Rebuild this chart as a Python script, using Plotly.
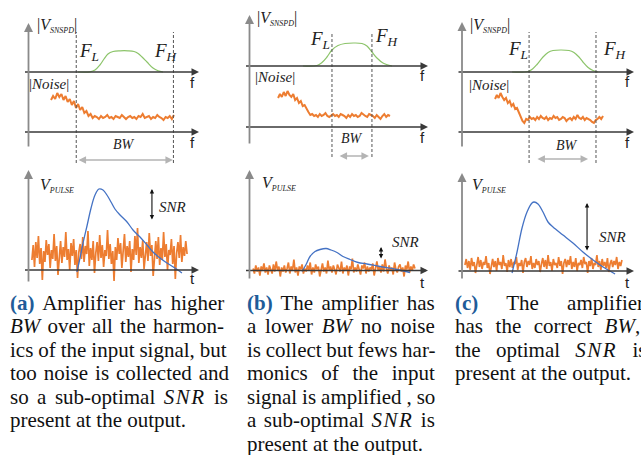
import numpy as np
import plotly.graph_objects as go

W, H = 641, 455

# ---------------- data ----------------
# cut-off frequencies (f units, 0 = vertical axis, 10 = arrow tip)
FL = [2.8, 4.62, 3.90]
FH = [8.5, 6.86, 7.79]

# |V_SNSPD| band (green)
sig_f_a = [2.90, 3.61, 3.90, 4.19, 4.43, 4.66, 4.96, 5.37, 5.84, 6.19, 6.43, 6.66, 6.95, 7.30, 7.60, 7.89]
sig_v_a = [0, 0.02, 0.2, 0.7, 1.3, 1.8, 2.05, 2.12, 2.12, 2.05, 1.85, 1.5, 1.0, 0.4, 0.12, 0.0]
sig_f_b = [2.99, 3.78, 4.06, 4.34, 4.62, 4.96, 5.35, 5.85, 6.30, 6.58, 6.86, 7.14, 7.48, 7.98]
sig_v_b = [0, 0.05, 0.35, 0.9, 1.6, 2.05, 2.25, 2.3, 2.25, 2.0, 1.4, 0.8, 0.3, 0.0]
sig_f_c = [2.91, 3.84, 4.13, 4.36, 4.71, 5.0, 5.29, 5.76, 6.22, 6.51, 6.80, 7.03, 7.33, 7.62, 7.91]
sig_v_c = [0, 0.05, 0.35, 0.75, 1.5, 1.95, 2.15, 2.2, 2.15, 1.95, 1.5, 1.0, 0.45, 0.15, 0.0]

# |Noise| spectrum (orange), sampled evenly between first and last f
nf_span_a = [1.32, 8.53]
nf_v_a = [3.2, 3.6, 3.3, 3.9, 3.5, 3.8, 3.2, 3.6, 3.0, 3.3, 2.7, 3.1, 2.4, 2.8, 2.2, 2.5, 1.9, 2.1, 1.6, 1.8,
          1.4, 1.6, 1.5, 1.3, 1.6, 1.4, 1.5, 1.7, 1.4, 1.5, 1.3, 1.6, 1.5, 1.4, 1.7, 1.5, 1.3, 1.5, 1.6, 1.4,
          1.5, 1.3, 1.6, 1.5, 1.8, 1.4, 1.5, 1.6, 1.3, 1.5, 1.4, 1.7, 1.5, 1.4, 1.2, 1.5, 1.4, 1.6, 1.3, 1.7]
nf_span_b = [1.6, 7.87]
nf_v_b = [2.9, 3.3, 3.0, 3.5, 3.1, 3.6, 3.2, 3.0, 3.3, 2.7, 2.9, 2.4, 2.6, 2.1, 2.2, 1.8, 1.5, 1.2, 1.3, 1.1,
          1.2, 1.0, 1.3, 1.1, 1.2, 1.4, 1.1, 1.0, 1.2, 1.3, 1.1, 1.2, 1.0, 1.3, 1.2, 1.1, 0.9, 1.2, 1.0, 1.3,
          1.1, 1.2, 1.0, 1.1, 1.4, 1.2, 1.1, 1.0, 1.3, 1.2, 1.1, 0.9, 1.2, 1.0, 0.8, 1.1, 1.3, 1.0, 1.2, 1.1]
nf_span_c = [1.92, 8.2]
nf_v_c = [3.3, 3.7, 3.4, 3.9, 3.5, 3.2, 3.4, 2.9, 3.1, 2.6, 2.8, 2.3, 2.4, 1.9, 1.6, 1.1, 0.9, 1.3, 1.2, 1.5,
          1.3, 1.4, 1.2, 1.5, 1.3, 1.6, 1.4, 1.3, 1.5, 1.2, 1.4, 1.3, 1.6, 1.4, 1.5, 1.2, 1.3, 1.5, 1.4, 1.1,
          1.3, 1.4, 1.2, 1.5, 1.3, 1.7, 1.4, 1.3, 1.5, 1.2, 1.4, 1.3, 1.2, 1.0, 0.9, 1.2, 1.3, 1.5, 1.3, 1.6]

# V_PULSE (blue)
pulse_t_a = [2.84, 3.02, 3.20, 3.43, 3.67, 3.90, 4.13, 4.37, 4.60, 4.84, 5.07, 5.37, 5.78, 6.13, 6.54, 6.95, 7.30, 7.71, 8.12, 8.59, 9.00]
pulse_v_a = [-0.2, 1.2, 2.7, 4.4, 6.2, 7.5, 8.1, 8.0, 7.5, 6.8, 6.1, 5.5, 4.8, 4.0, 3.3, 2.5, 1.8, 1.2, 0.7, 0.2, -0.3]
pulse_t_b = [2.94, 3.17, 3.39, 3.67, 3.95, 4.29, 4.57, 4.90, 5.24, 5.63, 6.08, 6.58, 7.31, 8.26, 8.99]
pulse_v_b = [-0.1, 0.6, 1.4, 1.9, 2.1, 2.2, 2.05, 1.8, 1.4, 1.1, 0.8, 0.65, 0.4, 0.1, -0.2]
pulse_t_c = [2.91, 3.20, 3.49, 3.78, 4.07, 4.19, 4.42, 4.71, 5.0, 5.29, 5.87, 6.45, 7.03, 7.62, 8.20, 8.90]
pulse_v_c = [-0.2, 1.9, 4.3, 5.9, 6.8, 6.9, 6.7, 5.9, 4.9, 4.4, 3.6, 2.8, 1.9, 1.1, 0.4, -0.3]

# time-domain noise (orange), sampled evenly between first and last t
nt_span_a = [0.2, 9.3]
nt_v_a = [1.0, 2.5, 0.3, 2.8, 1.2, 3.4, 0.6, 2.2, -1.0, 1.9, 0.8, 3.0, 1.5, 2.6, 0.2, 2.0, 1.1, 3.6, 0.9, 2.4,
          -0.5, 1.6, 2.9, 0.7, 2.3, 1.3, 3.8, 1.0, 2.1, 0.0, 2.7, 1.4, 3.1, 0.5, 2.0, -0.8, 1.8, 2.6, 1.1, 3.3,
          0.8, 2.4, 1.6, 3.9, 0.4, 2.2, 1.0, 2.9, -0.3, 1.7, 2.8, 0.9, 3.5, 1.2, 2.5, 0.3, 2.0, 1.4, 4.0, 1.1,
          2.6, 0.6, 1.9, -1.1, 2.3, 1.0, 3.2, 1.6, 2.7, 0.2, 1.8, 3.6, 0.8, 2.4, 1.3, 2.9, -0.2, 2.1, 1.0, 3.4,
          1.5, 4.2, 0.7, 2.3, 1.2, 3.0, 0.1, 1.9, 2.8, 0.9, 3.7, 1.4, 2.5, -0.6, 1.6, 2.9, 1.1, 3.3, 0.5, 2.2,
          1.0, 3.8, 1.3, 2.6, 0.0, 2.0, 1.5, 3.1, 0.6, 2.4, -0.9, 1.7, 2.8, 1.2, 3.5, 0.8, 2.3, 1.4, 2.9, 1.6]
nt_span_b = [0.2, 9.27]
nt_v_b = [0.2, -0.3, 0.5, -0.1, 0.3, -0.5, 0.4, 0.0, 0.7, -0.2, 0.3, -0.4, 0.5, 0.1, -0.3, 0.6, -0.1, 0.9, 0.0, 0.4,
          -0.6, 0.3, -0.1, 0.5, -0.2, 0.2, 0.8, -0.3, 0.4, 0.0, 1.1, -0.2, 0.3, -0.5, 0.4, 0.1, 0.6, -0.3, 0.2, -0.1,
          0.5, 0.0, 0.8, -0.4, 0.3, -0.2, 0.6, 0.1, 0.4, -0.6, 0.2, 0.7, -0.1, 0.3, -0.3, 1.0, 0.0, 0.4, -0.2, 0.5,
          0.1, -0.4, 0.6, 0.2, -0.1, 0.9, -0.3, 0.3, 0.0, 0.5, -0.5, 0.4, 0.1, 1.2, -0.2, 0.3, -0.1, 0.6, 0.0, -0.4,
          0.5, 0.2, 0.8, -0.3, 0.4, -0.1, 0.3, 0.1, 0.7, -0.5, 0.2, 0.9, 0.0, 0.4, -0.2, 0.6, -0.1, 1.1, 0.2, -0.3,
          0.5, 0.0, 0.3, -0.4, 0.8, 0.1, -0.2, 0.4, 0.6, -0.1, 0.3, -0.6, 0.5, 0.1, 0.9, -0.2, 0.4, 0.0, 0.6, 0.2]
nt_span_c = [0.17, 9.3]
nt_v_c = [0.6, 1.2, 0.3, 1.0, 0.1, 1.3, 0.5, 0.9, -0.2, 0.8, 1.4, 0.4, 1.1, 0.2, 0.9, 0.6, 1.5, 0.3, 0.8, -0.3,
          0.7, 1.2, 0.4, 1.0, 0.0, 1.3, 0.6, 0.9, 0.2, 1.6, 0.5, 0.8, -0.1, 1.1, 0.4, 1.2, 0.3, 0.9, 0.7, 1.4,
          0.1, 0.8, 0.5, 1.1, -0.2, 0.9, 1.3, 0.4, 1.0, 0.6, 1.5, 0.2, 0.8, 0.3, 1.2, 0.6, 1.0, -0.1, 0.7, 1.3,
          0.4, 1.1, 0.2, 1.6, 0.5, 0.9, 0.0, 1.2, 0.6, 0.8, 0.3, 1.4, 0.5, 1.0, -0.3, 0.8, 1.2, 0.4, 1.1, 0.6,
          1.5, 0.2, 0.9, 0.4, 1.3, 0.0, 0.8, 0.6, 1.1, 0.3, 1.4, 0.7, 0.9, -0.2, 1.0, 0.5, 1.3, 0.2, 0.8, 0.6,
          1.6, 0.4, 1.0, 0.1, 1.2, 0.5, 0.9, 0.3, 1.3, -0.1, 0.7, 1.1, 0.4, 1.0, 0.6, 1.4, 0.2, 0.9, 0.5, 1.1]

# SNR arrow: [t, top V, bottom V]
snr_a = [7.24, 8.1, 4.9]
snr_b = [7.37, 2.35, 1.05]
snr_c = [7.27, 6.8, 1.9]

# BW arrow extent (f units)
bw_a = [2.85, 8.47]
bw_b = [4.96, 6.69]
bw_c = [4.30, 7.33]

SNR_I = '<i><span style="letter-spacing:1.5px">SNR</span></i>'
captions = [
    ["(a)", "Amplifier has higher", "<i>BW</i> over all the harmon-", "ics of the input signal, but",
     "too noise is collected and", f"so a sub-optimal {SNR_I} is", "present at the output."],
    ["(b)", "The amplifier has", "a lower <i>BW</i> no noise", "is collect but fews har-",
     "monics of the input", "signal is amplified , so", f"a sub-optimal {SNR_I} is",
     "present at the output."],
    ["(c)", "The amplifier", "has the correct <i>BW</i>,", f"the optimal {SNR_I} is",
     "present at the output."],
]

# ---------------- layout / style (pixels) ----------------
cols = [
    dict(yax=28.5, xend=199, sig0=72, noi0=132, bot0=270, ytop=(23, 148), ybot=(170, 283),
         dash=(32, 163), bwy=160, cap_x=8),
    dict(yax=249.5, xend=428, sig0=66, noi0=127, bot0=270.5, ytop=(15, 145), ybot=(170, 280),
         dash=(32, 157), bwy=156, cap_x=245),
    dict(yax=462, xend=634, sig0=72, noi0=132, bot0=271, ytop=(22, 148), ybot=(173, 280),
         dash=(32, 163), bwy=159, cap_x=453),
]
# word spacing (px) used to justify each caption line
cap_ws = [
    [3.6, 1.9, -0.3, 1.7, 3.2, 0],
    [3.0, 3.5, -0.6, 8.4, -0.3, 2.2, 0],
    [23.0, 7.3, 10.0, 0],
]
CAP_SIZE = 21
TOP_T, TOP_B = 6, 172
BOT_T, BOT_B = 160, 292
VPX = 10.0  # pixels per value unit

labels = [
    dict(vs=(35, 25), fl=(77, 52), fh=(152, 52), noise=(27, 84), f1=(192, 82), f2=(192, 142),
         bw=(124, 144), vp=(38, 185), snr=(157, 207), t=(192, 278)),
    dict(vs=(255, 19), fl=(308, 40), fh=(373, 37), noise=(253, 77), f1=(422, 76), f2=(422, 137),
         bw=(352, 138), vp=(260, 183), snr=(390, 242), t=(422, 282)),
    dict(vs=(468, 25), fl=(506, 50), fh=(601, 50), noise=(467, 85), f1=(627, 81), f2=(627, 142),
         bw=(567, 145), vp=(470, 185), snr=(597, 237), t=(627, 282)),
]

GREEN = "#8cc46a"
ORANGE = "#ed7d31"
BLUE = "#4472c4"
SERIF = "Liberation Serif, Times New Roman, serif"
SANS = "Liberation Sans, Arial, sans-serif"

sig_f = [sig_f_a, sig_f_b, sig_f_c]
sig_v = [sig_v_a, sig_v_b, sig_v_c]
nf_span = [nf_span_a, nf_span_b, nf_span_c]
nf_v = [nf_v_a, nf_v_b, nf_v_c]
pulse_t = [pulse_t_a, pulse_t_b, pulse_t_c]
pulse_v = [pulse_v_a, pulse_v_b, pulse_v_c]
nt_span = [nt_span_a, nt_span_b, nt_span_c]
nt_v = [nt_v_a, nt_v_b, nt_v_c]
snr = [snr_a, snr_b, snr_c]
bw = [bw_a, bw_b, bw_c]


def ax_name(kind, n):
    return f"{kind}axis" if n == 1 else f"{kind}axis{n}"


def ax_ref(kind, n):
    return kind if n == 1 else f"{kind}{n}"


def px(x, y):
    return x / W, 1 - y / H


fig = go.Figure()
layout = dict(width=W, height=H, margin=dict(l=0, r=0, t=0, b=0, pad=0), showlegend=False,
              paper_bgcolor="white", plot_bgcolor="rgba(0,0,0,0)")
annotations = []
shapes = []

for i, c in enumerate(cols):
    s = (c["xend"] - c["yax"]) / 10.0
    L, R = c["yax"] - 12, c["xend"] + 4
    xr = [(L - c["yax"]) / s, (R - c["yax"]) / s]
    nxt, nxb = 2 * i + 1, 2 * i + 2
    nys, nyn, nyb = 3 * i + 1, 3 * i + 2, 3 * i + 3
    xt, xb = ax_ref("x", nxt), ax_ref("x", nxb)
    ys, yn, yb = ax_ref("y", nys), ax_ref("y", nyn), ax_ref("y", nyb)
    hid = dict(visible=False, showgrid=False, zeroline=False, fixedrange=True)
    layout[ax_name("x", nxt)] = dict(hid, domain=[L / W, R / W], range=xr, anchor=ys)
    layout[ax_name("x", nxb)] = dict(hid, domain=[L / W, R / W], range=xr, anchor=yb)
    layout[ax_name("y", nys)] = dict(hid, domain=[1 - TOP_B / H, 1 - TOP_T / H], anchor=xt,
                                     range=[(c["sig0"] - TOP_B) / VPX, (c["sig0"] - TOP_T) / VPX])
    layout[ax_name("y", nyn)] = dict(hid, overlaying=ys, anchor=xt,
                                     range=[(c["noi0"] - TOP_B) / VPX, (c["noi0"] - TOP_T) / VPX])
    layout[ax_name("y", nyb)] = dict(hid, domain=[1 - BOT_B / H, 1 - BOT_T / H], anchor=xb,
                                     range=[(c["bot0"] - BOT_B) / VPX, (c["bot0"] - BOT_T) / VPX])

    # traces
    fig.add_trace(go.Scatter(x=sig_f[i], y=sig_v[i], xaxis=xt, yaxis=ys, mode="lines",
                             line=dict(color=GREEN, width=1.2, shape="spline"), hoverinfo="skip"))
    fig.add_trace(go.Scatter(x=np.linspace(nf_span[i][0], nf_span[i][1], len(nf_v[i])), y=nf_v[i],
                             xaxis=xt, yaxis=yn, mode="lines",
                             line=dict(color=ORANGE, width=2.0), hoverinfo="skip"))
    fig.add_trace(go.Scatter(x=np.linspace(nt_span[i][0], nt_span[i][1], len(nt_v[i])), y=nt_v[i],
                             xaxis=xb, yaxis=yb, mode="lines",
                             line=dict(color=ORANGE, width=1.7), hoverinfo="skip"))
    fig.add_trace(go.Scatter(x=pulse_t[i], y=pulse_v[i], xaxis=xb, yaxis=yb, mode="lines",
                             line=dict(color=BLUE, width=1.3, shape="spline"), hoverinfo="skip"))

    x_left = -5 / s
    # horizontal axes with arrows
    for yref in (ys, yn):
        annotations.append(dict(x=10, y=0, ax=x_left, ay=0, xref=xt, yref=yref, axref=xt, ayref=yref,
                                text="", showarrow=True, arrowhead=2, arrowsize=1, arrowwidth=1.5,
                                arrowcolor="#3a3a3a", standoff=0))
    annotations.append(dict(x=10, y=0, ax=x_left, ay=0, xref=xb, yref=yb, axref=xb, ayref=yb,
                            text="", showarrow=True, arrowhead=2, arrowsize=1, arrowwidth=1.5,
                            arrowcolor="#3a3a3a", standoff=0))
    # vertical axes
    annotations.append(dict(x=0, y=(c["sig0"] - c["ytop"][0]) / VPX, ax=0, ay=(c["sig0"] - c["ytop"][1]) / VPX,
                            xref=xt, yref=ys, axref=xt, ayref=ys, text="", showarrow=True, arrowhead=2,
                            arrowsize=1, arrowwidth=1.8, arrowcolor="#8a8a8a", standoff=0))
    annotations.append(dict(x=0, y=(c["bot0"] - c["ybot"][0]) / VPX, ax=0, ay=(c["bot0"] - c["ybot"][1]) / VPX,
                            xref=xb, yref=yb, axref=xb, ayref=yb, text="", showarrow=True, arrowhead=2,
                            arrowsize=1, arrowwidth=1.8, arrowcolor="#8a8a8a", standoff=0))
    # dashed cut-off lines
    for fv in (FL[i], FH[i]):
        shapes.append(dict(type="line", xref=xt, yref="paper", x0=fv, x1=fv,
                           y0=1 - c["dash"][1] / H, y1=1 - c["dash"][0] / H,
                           line=dict(color="#555555", width=1, dash="3px,2px")))
    # BW double arrow
    ybw = (c["noi0"] - c["bwy"]) / VPX
    annotations.append(dict(x=bw[i][1], y=ybw, ax=bw[i][0], ay=ybw, xref=xt, yref=yn, axref=xt, ayref=yn,
                            text="", showarrow=True, arrowhead=2, startarrowhead=2, arrowside="end+start",
                            arrowsize=1, startarrowsize=1, arrowwidth=1.5, arrowcolor="#b4b4b4",
                            standoff=0, startstandoff=0))
    # SNR double arrow
    annotations.append(dict(x=snr[i][0], y=snr[i][1], ax=snr[i][0], ay=snr[i][2], xref=xb, yref=yb,
                            axref=xb, ayref=yb, text="", showarrow=True, arrowhead=2, startarrowhead=2,
                            arrowside="end+start", arrowsize=0.8, startarrowsize=0.8, arrowwidth=1.1,
                            arrowcolor="#111111", standoff=0, startstandoff=0))

    # text labels
    lb = labels[i]

    def lab(pos, text, size, family=SERIF, xanchor="left"):
        x, y = px(*pos)
        annotations.append(dict(x=x, y=y, xref="paper", yref="paper", text=text, showarrow=False,
                                xanchor=xanchor, yanchor="middle",
                                font=dict(family=family, size=size, color="#222222")))

    lab(lb["vs"], '|<i>V</i><sub><span style="font-size:8px"><i>SNSPD</i></span></sub>|', 16)
    lab(lb["fl"], "<i>F</i><sub><i>L</i></sub>", 19)
    lab(lb["fh"], "<i>F</i><sub><i>H</i></sub>", 19)
    lab(lb["noise"], "|<i>Noise</i>|", 15)
    lab(lb["f1"], "f", 15, SANS, "center")
    lab(lb["f2"], "f", 15, SANS, "center")
    lab(lb["bw"], "<i>BW</i>", 14, SERIF, "center")
    lab(lb["vp"], '<i>V</i><sub><span style="font-size:8px"><i>PULSE</i></span></sub>', 16)
    lab(lb["snr"], "<i>SNR</i>", 15)
    lab(lb["t"], "t", 15, SANS, "center")

    # caption
    cap = captions[i]
    y0 = 302.5
    for k, line in enumerate(cap[1:]):
        if k == 0:
            body = f'<span style="color:#1f5c99"><b>{cap[0]}</b></span> {line}'
        else:
            body = line
        txt = f'<span style="word-spacing:{cap_ws[i][k]}px">{body}</span>'
        x, y = px(c["cap_x"], y0 + 23.5 * k)
        annotations.append(dict(x=x, y=y, xref="paper", yref="paper", text=txt, showarrow=False,
                                xanchor="left", yanchor="middle",
                                font=dict(family=SERIF, size=CAP_SIZE, color="#111111")))

layout["annotations"] = annotations
layout["shapes"] = shapes
fig.update_layout(**layout)
fig.write_html("out.html", config={"displayModeBar": False, "staticPlot": True},
               post_script="document.body.style.margin='0px';")
